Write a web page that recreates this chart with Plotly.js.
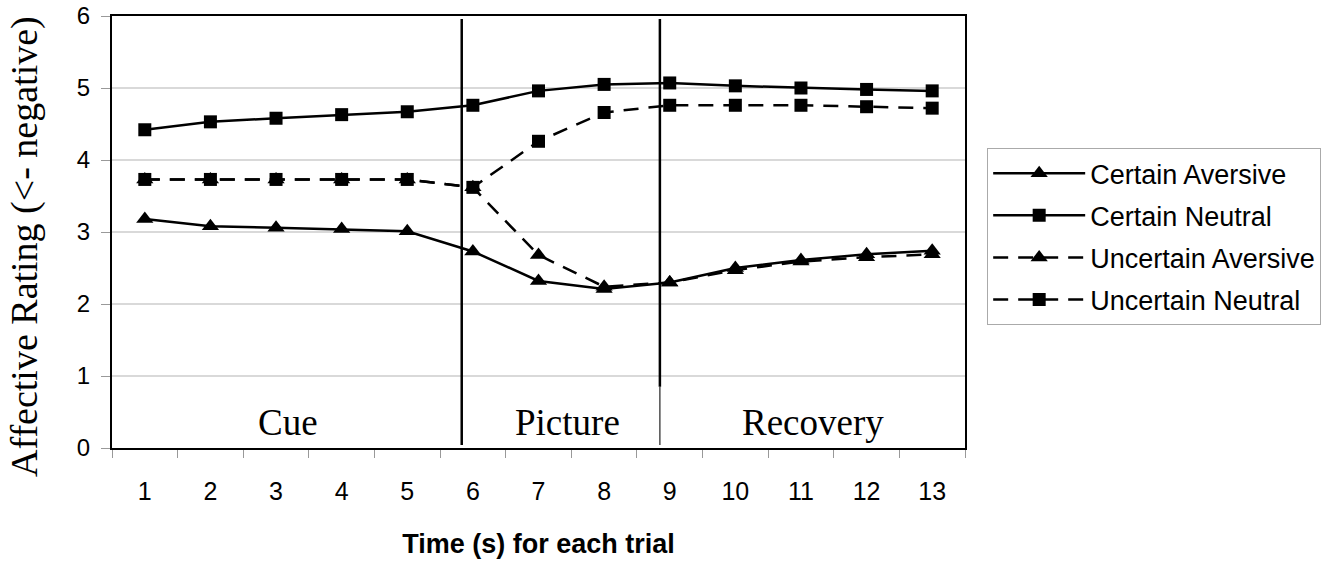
<!DOCTYPE html>
<html>
<head>
<meta charset="utf-8">
<script src="https://cdn.plot.ly/plotly-3.0.1.min.js"></script>
<style>html,body{margin:0;padding:0;background:#fff;}#chart{width:1334px;height:563px;}</style>
</head>
<body>
<div id="chart"></div>
<script>
const timeCategories = [1, 2, 3, 4, 5, 6, 7, 8, 9, 10, 11, 12, 13];
const certainAversive   = [3.18, 3.08, 3.06, 3.04, 3.01, 2.73, 2.32, 2.21, 2.30, 2.50, 2.61, 2.69, 2.74];
const certainNeutral    = [4.42, 4.53, 4.58, 4.63, 4.67, 4.76, 4.96, 5.05, 5.07, 5.03, 5.00, 4.98, 4.96];
const uncertainAversive = [3.73, 3.73, 3.73, 3.73, 3.73, 3.62, 2.68, 2.24, 2.30, 2.47, 2.59, 2.65, 2.69];
const uncertainNeutral  = [3.73, 3.73, 3.73, 3.73, 3.73, 3.62, 4.26, 4.66, 4.76, 4.76, 4.76, 4.74, 4.72];
const seriesNames = ['Certain Aversive', 'Certain Neutral', 'Uncertain Aversive', 'Uncertain Neutral'];
const phaseLabels = ['Cue', 'Picture', 'Recovery'];
const phaseLabelX = [3.18, 7.44, 11.19];
const phaseBoundaries = [5.83, 8.85];
const yTitle = 'Affective Rating (<- negative)';
const xTitle = 'Time (s) for each trial';

const dashPat = '15px,10px';
function mk(name, y, symbol, dash, size) {
  return {
    x: timeCategories, y: y, name: name, type: 'scatter', mode: 'lines+markers',
    line: {color: '#000', width: 2.5, dash: dash},
    marker: {symbol: symbol, size: size, color: '#000'},
    legendgroup: name
  };
}
const data = [
  mk(seriesNames[0], certainAversive, 'triangle-up', 'solid', 15),
  mk(seriesNames[1], certainNeutral, 'square', 'solid', 13),
  mk(seriesNames[2], uncertainAversive, 'triangle-up', dashPat, 15),
  mk(seriesNames[3], uncertainNeutral, 'square', dashPat, 13)
];

const shapes = [
  {type: 'line', xref: 'x', yref: 'y', x0: phaseBoundaries[0], x1: phaseBoundaries[0], y0: 0.04, y1: 5.96, line: {color: '#000', width: 2.5}},
  {type: 'line', xref: 'x', yref: 'y', x0: phaseBoundaries[1], x1: phaseBoundaries[1], y0: 0.85, y1: 5.96, line: {color: '#000', width: 2.5}},
  {type: 'line', xref: 'x', yref: 'y', x0: phaseBoundaries[1], x1: phaseBoundaries[1], y0: 0.04, y1: 0.85, line: {color: '#222', width: 1.2}}
];

const annotations = phaseLabels.map((t, i) => ({
  x: phaseLabelX[i], y: 0.36, xref: 'x', yref: 'y', text: t, showarrow: false,
  font: {family: 'Liberation Serif, Times New Roman, serif', size: 37, color: '#000'},
  xanchor: 'center', yanchor: 'middle'
}));
annotations.push({
  x: -0.102, y: 0.4676, xref: 'paper', yref: 'paper', text: yTitle, showarrow: false,
  textangle: -90, xanchor: 'center', yanchor: 'middle',
  font: {family: 'Liberation Serif, Times New Roman, serif', size: 38, color: '#000'}
});

const layout = {
  width: 1334, height: 563,
  margin: {l: 112, r: 369, t: 16, b: 115},
  paper_bgcolor: '#fff', plot_bgcolor: '#fff',
  font: {family: 'Liberation Sans, Arial, sans-serif', color: '#000'},
  showlegend: true,
  legend: {
    x: 1.026, y: 0.694, xanchor: 'left', yanchor: 'top',
    bordercolor: '#aaa', borderwidth: 1, bgcolor: '#fff',
    font: {family: 'Liberation Sans, Arial, sans-serif', size: 27, color: '#000'},
    itemwidth: 92, traceorder: 'grouped', tracegroupgap: 4
  },
  xaxis: {
    type: 'linear', range: [0.5, 13.5], autorange: false,
    tickmode: 'array', tickvals: timeCategories, ticktext: timeCategories.map(String),
    ticks: '', showgrid: false, zeroline: false,
    showline: true, linecolor: '#000', linewidth: 2, mirror: true,
    tickfont: {family: 'Liberation Sans, Arial, sans-serif', size: 25, color: '#000'},
    ticklabelstandoff: 20,
    minor: {tickmode: 'linear', tick0: 0.5, dtick: 1, ticks: 'outside', ticklen: 8, tickcolor: '#999', tickwidth: 1, showgrid: false},
    title: {text: '<b>' + xTitle + '</b>', font: {family: 'Liberation Sans, Arial, sans-serif', size: 27, color: '#000'}, standoff: 30}
  },
  yaxis: {
    range: [0, 6], autorange: false, tickmode: 'array', tickvals: [0, 1, 2, 3, 4, 5, 6],
    ticks: 'outside', ticklen: 9, tickcolor: '#999', tickwidth: 1,
    showgrid: true, gridcolor: '#d9d9d9', gridwidth: 1.2, zeroline: false,
    showline: true, linecolor: '#000', linewidth: 2, mirror: true,
    tickfont: {family: 'Liberation Sans, Arial, sans-serif', size: 24, color: '#000'},
    ticklabelstandoff: 6
  },
  shapes: shapes,
  annotations: annotations
};

Plotly.newPlot('chart', data, layout, {staticPlot: true, displayModeBar: false});
</script>
</body>
</html>
